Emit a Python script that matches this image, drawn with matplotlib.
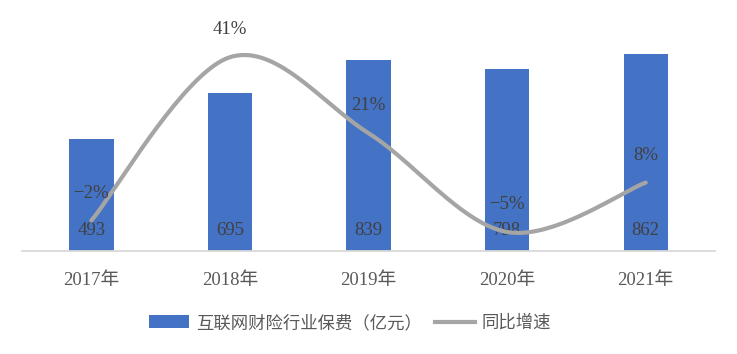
import numpy as np
import matplotlib
matplotlib.use('Agg')
from matplotlib import pyplot as plt
from matplotlib.patches import Patch
from matplotlib.lines import Line2D

# data
years = ['2017年', '2018年', '2019年', '2020年', '2021年']
premium = [493, 695, 839, 798, 862]          # 亿元
growth = [-2, 41, 21, -5, 8]                 # %
growth_labels = ['−2%', '41%', '21%', '−5%', '8%']

serif = ['Liberation Serif', 'Noto Sans CJK SC']
cjk = ['Noto Sans CJK SC', 'DejaVu Sans']
blue = '#4472C4'
grey = '#A5A5A5'

fig = plt.figure(figsize=(7.37, 3.54), dpi=100)
ax = fig.add_axes([0.0299, 0.291, 0.9403, 0.644])
x = np.arange(len(years))

ax.bar(x, premium, width=0.32, color=blue, zorder=2)
ax.set_ylim(0, 1000)
ax.set_xlim(-0.5, len(years) - 0.5)
ax.set_yticks([])
ax.set_xticks(x)
ax.set_xticklabels(years, family=serif, fontsize=13.5, color='#595959')
ax.tick_params(axis='x', length=0, pad=15)
for s in ['top', 'right', 'left']:
    ax.spines[s].set_visible(False)
ax.spines['bottom'].set_color('#D9D9D9')
ax.spines['bottom'].set_linewidth(1.3)

# value labels near the base of each bar
for xi, v in zip(x, premium):
    ax.annotate(str(v), (xi, 0), xytext=(0, 8.5), textcoords='offset points',
                ha='center', va='bottom', family=serif, fontsize=13.5,
                color='#404040', zorder=5)

# growth line on hidden secondary axis, smoothed like Excel
ax2 = ax.twinx()
ax2.set_ylim(-10, 50)
ax2.axis('off')

def smooth(xs, ys, n=40):
    xs = np.asarray(xs, float)
    ys = np.asarray(ys, float)
    px = np.concatenate([[xs[0]], xs, [xs[-1]]])
    py = np.concatenate([[ys[0]], ys, [ys[-1]]])
    outx, outy = [], []
    t = np.linspace(0, 1, n)
    for i in range(1, len(px) - 2):
        p0 = np.array([px[i], py[i]])
        p3 = np.array([px[i + 1], py[i + 1]])
        c1 = p0 + (np.array([px[i + 1], py[i + 1]]) - np.array([px[i - 1], py[i - 1]])) / 6
        c2 = p3 - (np.array([px[i + 2], py[i + 2]]) - np.array([px[i], py[i]])) / 6
        b = ((1 - t) ** 3)[:, None] * p0 + (3 * (1 - t) ** 2 * t)[:, None] * c1 \
            + (3 * (1 - t) * t ** 2)[:, None] * c2 + (t ** 3)[:, None] * p3
        outx.extend(b[:, 0])
        outy.extend(b[:, 1])
    return outx, outy

sx, sy = smooth(x, growth)
ax2.plot(sx, sy, color=grey, lw=3, solid_capstyle='round', zorder=3)
for xi, g, lab in zip(x, growth, growth_labels):
    ax2.annotate(lab, (xi, g), xytext=(0, 13.5), textcoords='offset points',
                 ha='center', va='bottom', family=serif, fontsize=13.5,
                 color='#404040', zorder=5)

handles = [Patch(facecolor=blue, edgecolor='none'),
           Line2D([0], [0], color=grey, lw=3)]
fig.legend(handles, ['互联网财险行业保费（亿元）', '同比增速'], loc='center',
           bbox_to_anchor=(0.475, 0.088), ncol=2, frameon=False,
           prop={'family': cjk, 'size': 12.5, 'weight': 'light'},
           labelcolor='#595959',
           handlelength=2.3, handleheight=0.8, handletextpad=0.4,
           columnspacing=0.75)

fig.savefig('out.png', dpi=100)
